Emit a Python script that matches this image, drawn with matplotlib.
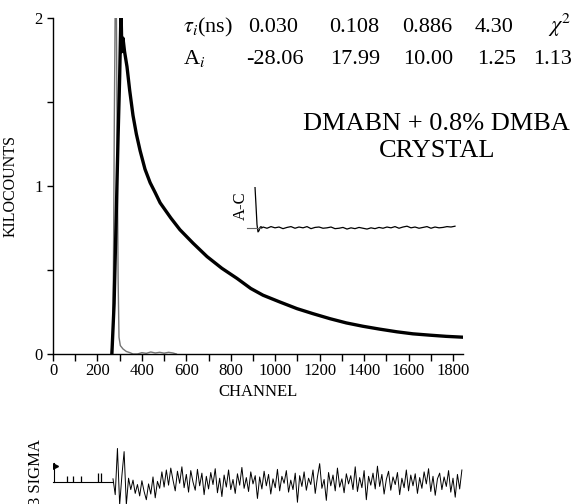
import numpy as np
import matplotlib
matplotlib.use("Agg")
import matplotlib.pyplot as plt

plt.rcParams["font.family"] = ["Liberation Serif", "DejaVu Serif"]
plt.rcParams["mathtext.fontset"] = "stix"

# decay curve (channel, kilocounts)
decay_ch = [265, 275, 285, 293, 300, 306, 310, 315, 322, 333, 345, 360, 375,
            392, 414, 437, 460, 482, 530, 571, 630, 693, 760, 828, 890, 945,
            1020, 1098, 1170, 1247, 1320, 1395, 1470, 1548, 1620, 1697, 1770, 1845]
decay_kc = [0.0, 0.3, 0.85, 1.3, 1.65, 2.05, 1.8, 1.88, 1.8, 1.71, 1.57, 1.42, 1.31,
            1.21, 1.10, 1.02, 0.96, 0.90, 0.81, 0.74, 0.66, 0.58, 0.51, 0.45, 0.39, 0.35,
            0.31, 0.27, 0.24, 0.21, 0.185, 0.165, 0.148, 0.132, 0.12, 0.112, 0.105, 0.10]

# instrument response
irf_ch = [262, 268, 272, 276, 280, 285, 289, 293, 297, 303, 315, 330, 346, 360,
          380, 400, 420, 440, 460, 480, 500, 520, 540, 555]
irf_kc = [0.0, 0.1, 0.5, 1.4, 2.1, 2.1, 1.2, 0.45, 0.1, 0.05, 0.03, 0.015, 0.008, 0.0,
          0.0, 0.008, 0.004, 0.012, 0.006, 0.01, 0.005, 0.01, 0.006, 0.0]

# fit parameters
tau_labels = ["0.030", "0.108", "0.886", "4.30"]
amp_labels = ["-28.06", "17.99", "10.00", "1.25"]
chi2 = "1.13"

# autocorrelation inset
ac_lag = [0, 1, 2, 3, 4, 5, 6, 7] + list(range(8, 204, 4))
ac_val = [1.0, 0.55, 0.08, -0.1, -0.07, 0.01, 0.03, 0.0,
          0.02, -0.01, 0.03, 0.0, 0.02, -0.02, 0.01, 0.03, -0.01, 0.02, 0.0, 0.03,
          -0.02, 0.01, 0.02, -0.01, 0.0, 0.02, -0.02, -0.01, 0.01, -0.03, 0.0, -0.02,
          0.01, -0.01, -0.03, 0.0, -0.02, 0.01, -0.01, 0.02, 0.0, 0.03, -0.01, 0.02,
          0.04, 0.0, 0.02, -0.01, 0.01, 0.03, -0.01, 0.02, 0.0, 0.01, 0.03, 0.02, 0.04]

# weighted residuals (sigma units), every 10 channels from 270
resid = [0.5, -2.0, 5.3, -3.6, 1.0, 4.8, -3.6, 0.6, -1.2, 0.3, -1.8, -0.4, -2.2, 0.2,
         -1.5, -2.8, -0.3, -1.9, 0.8, -2.5, 0.1, -1.0, 1.6, -0.8, 1.9, -0.5, 2.2, 0.3,
         -1.4, 1.7, -0.2, 2.4, -0.9, 1.2, -1.6, 1.8, 0.0, -1.3, 2.0, -0.6, 1.4, -2.0,
         0.9, -1.1, 1.5, -0.4, 2.1, -1.7, 0.6, -2.3, 1.1, -0.8, 1.9, -1.2, 0.4, -1.8,
         1.3, -0.5, 2.3, -1.0, 0.7, -1.5, 1.6, -0.3, 1.0, -2.6, 0.8, -1.1, 1.7, -0.6,
         1.2, -1.9, 0.5, -0.9, 2.0, -1.4, 0.9, -0.2, 1.8, -1.6, 0.3, -1.2, 1.4, -3.2,
         1.0, -0.7, 1.6, -1.3, 0.6, -0.4, 1.9, -1.8, 0.8, 2.9, -1.0, 0.4, -2.9, 1.5,
         -0.6, 1.1, -1.4, 2.2, -0.8, 0.5, -1.7, 1.3, -0.3, 1.0, -1.2, 2.4, -1.5, 0.7,
         -0.9, 1.8, -2.8, 0.9, -0.5, 1.4, -1.1, 2.5, -0.7, 1.2, -1.9, 0.4, 1.7, -1.3,
         0.8, -0.4, 1.5, -2.0, 0.6, -0.9, 1.9, -1.4, 1.1, -0.6, 1.3, -1.8, 0.7, -1.0,
         1.6, -0.3, 2.1, -1.5, 0.9, -2.1, 0.5, 1.4, -1.2, 0.8, -0.7, 1.8, -1.6, 0.6,
         -2.4, 1.2, -1.1, 1.9]
resid_ch = 270 + 10 * np.arange(len(resid))
spike_ch = [63, 90, 126, 203, 216]
spike_h = [1.0, 1.0, 1.0, 1.4, 1.4]

W, H = 577, 504
fig = plt.figure(figsize=(W / 100, H / 100), dpi=100)

# main decay plot
ax = fig.add_axes([53 / W, 1 - 354 / H, 410 / W, 336 / H])
ax.plot(irf_ch, irf_kc, color="0.45", lw=1.0)
ax.plot(decay_ch, decay_kc, color="black", lw=2.4)
ax.set_xlim(0, 1845)
ax.set_ylim(0, 2)
for s in ["top", "right"]:
    ax.spines[s].set_visible(False)
ax.spines["left"].set_linewidth(1.0)
ax.spines["bottom"].set_linewidth(1.0)
ax.set_xticks(range(0, 1801, 200))
ax.set_xticks(range(100, 1801, 200), minor=True)
ax.set_yticks([0, 1, 2])
ax.set_yticks([0.5, 1.5], minor=True)
ax.tick_params(axis="x", which="both", direction="out", length=5, width=1,
               labelsize=12, pad=1.5)
ax.tick_params(axis="y", which="both", direction="out", length=4.5, width=1,
               labelsize=12, pad=3)
ax.set_xlabel("CHANNEL", fontsize=12, va="top")
ax.xaxis.set_label_coords(0.5, -0.09)
ax.set_ylabel("KILOCOUNTS", fontsize=11.5)
ax.yaxis.set_label_coords(-0.085, 0.5)

# fit parameter table
row1 = 1 - 32 / H
row2 = 1 - 64 / H
fig.text(183 / W, row1, r"$\tau_i$(ns)", fontsize=16)
fig.text(183 / W, row2, r"A$_i$", fontsize=16)
for lab, x in zip(tau_labels, [248, 329, 402, 475]):
    fig.text(x / W, row1, lab, fontsize=16)
fig.text(548 / W, row1, r"$\chi^2$", fontsize=16)
for lab, x in zip(amp_labels, [246, 330, 403, 477]):
    fig.text(x / W, row2, lab, fontsize=16)
fig.text(533 / W, row2, chi2, fontsize=16)

fig.text(436 / W, 1 - 130 / H, "DMABN + 0.8% DMBA", fontsize=19, ha="center")
fig.text(437 / W, 1 - 157 / H, "CRYSTAL", fontsize=19, ha="center")

# autocorrelation inset
axi = fig.add_axes([247 / W, 1 - 236 / H, 210 / W, 49 / H])
axi.plot(ac_lag, ac_val, color="black", lw=0.9)
axi.set_xlim(-8, 202)
axi.set_ylim(-0.2, 1.0)
for s in ["top", "right", "left"]:
    axi.spines[s].set_visible(False)
axi.spines["bottom"].set_position(("data", 0))
axi.spines["bottom"].set_bounds(-8, 6)
axi.spines["bottom"].set_color("0.4")
axi.set_xticks([])
axi.set_yticks([])
axi.patch.set_alpha(0)
fig.text(241 / W, 1 - 206 / H, "A-C", fontsize=12, rotation=90,
         ha="center", va="center")

# residuals
axr = fig.add_axes([53 / W, 0, 410 / W, 58 / H])
axr.plot(resid_ch, resid, color="black", lw=0.7)
axr.vlines(spike_ch, 0, spike_h, color="black", lw=0.9)
axr.plot([8], [2.6], marker=">", color="black", ms=4)
axr.set_xlim(0, 1845)
axr.set_ylim(-22 / 6.33, 36 / 6.33)
for s in ["top", "right"]:
    axr.spines[s].set_visible(False)
axr.spines["bottom"].set_position(("data", 0))
axr.spines["bottom"].set_bounds(0, 270)
axr.spines["left"].set_position(("data", 4))
axr.spines["left"].set_bounds(0, 3)
axr.set_xticks([])
axr.set_yticks([])
axr.patch.set_alpha(0)
fig.text(36 / W, 1 - 472 / H, "3 SIGMA", fontsize=12, rotation=90,
         ha="center", va="center")

fig.savefig("out.png", dpi=100)
